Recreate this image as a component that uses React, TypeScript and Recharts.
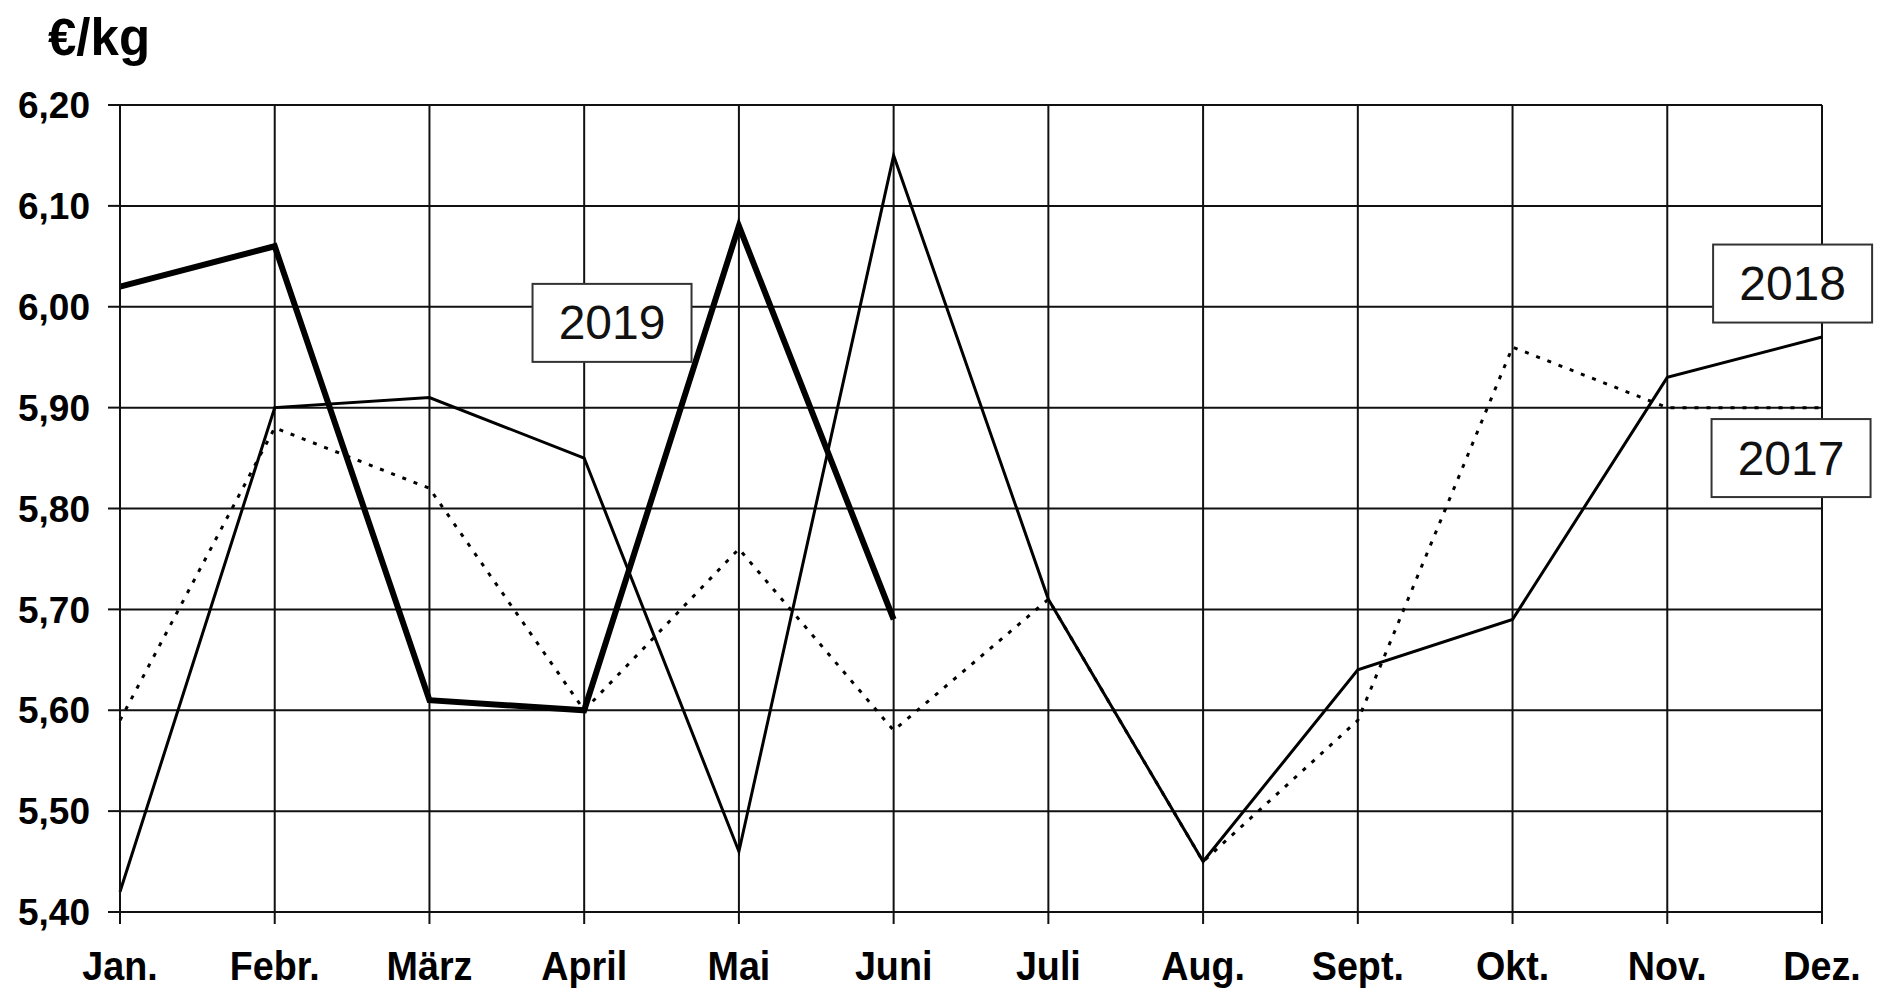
import { LineChart, Line, XAxis, YAxis, CartesianGrid, ReferenceDot } from 'recharts';

const months = ['Jan.', 'Febr.', 'März', 'April', 'Mai', 'Juni', 'Juli', 'Aug.', 'Sept.', 'Okt.', 'Nov.', 'Dez.'];
const yTicks = [5.4, 5.5, 5.6, 5.7, 5.8, 5.9, 6.0, 6.1, 6.2];

const prices2017 = [5.59, 5.88, 5.82, 5.6, 5.76, 5.58, 5.71, 5.45, 5.59, 5.96, 5.9, 5.9];
const prices2018 = [5.42, 5.9, 5.91, 5.85, 5.46, 6.15, 5.71, 5.45, 5.64, 5.69, 5.93, 5.97];
const prices2019 = [6.02, 6.06, 5.61, 5.6, 6.08, 5.69];

// where the year boxes sit (month index, value)
const yearLabels = [
    { text: '2019', x: 3.18, y: 5.984 },
    { text: '2018', x: 10.81, y: 6.023 },
    { text: '2017', x: 10.8, y: 5.85 }
];

const data = months.map((m, i) => ({
    x: i,
    y2017: prices2017[i],
    y2018: prices2018[i],
    y2019: i < prices2019.length ? prices2019[i] : null
}));

const fmt = (v: number) => v.toFixed(2).replace('.', ',');

function LabelBox(props: any) {
    const { cx, cy, text } = props;
    const w = 159;
    const h = 78;
    return (
        <g>
            <rect x={cx - w / 2} y={cy - h / 2} width={w} height={h} fill="#fff" stroke="#333" strokeWidth={2} />
            <text
                x={cx}
                y={cy}
                textAnchor="middle"
                dominantBaseline="central"
                fontFamily="'Liberation Sans', Arial, sans-serif"
                fontSize={48}
                fill="#111"
            >
                {text}
            </text>
        </g>
    );
}

// condensed bold month labels
function MonthTick(props: any) {
    const { x, y, payload } = props;
    return (
        <g transform={`translate(${x},${y}) scale(0.92,1)`}>
            <text
                x={0}
                y={0}
                dy={42}
                textAnchor="middle"
                fontFamily="'Liberation Sans', Arial, sans-serif"
                fontWeight="bold"
                fontSize={41}
                fill="#000"
            >
                {months[payload.value]}
            </text>
        </g>
    );
}

export default function App() {
    return (
        <div style={{ position: 'absolute', left: 0, top: 0, width: 1877, height: 989, background: '#fff' }}>
            <div
                style={{
                    position: 'absolute',
                    left: 48,
                    top: 10,
                    fontFamily: "'Liberation Sans', Arial, sans-serif",
                    fontWeight: 'bold',
                    fontSize: 51,
                    lineHeight: '56px',
                    color: '#000'
                }}
            >
                €/kg
            </div>
            <LineChart width={1877} height={989} data={data} margin={{ top: 105, right: 55, left: 10, bottom: 0 }}>
                <CartesianGrid stroke="#111" strokeWidth={2} horizontalValues={yTicks} verticalValues={months.map((_, i) => i)} />
                <XAxis
                    dataKey="x"
                    type="number"
                    domain={[0, 11]}
                    ticks={months.map((_, i) => i)}
                    interval={0}
                    height={77}
                    tickSize={12}
                    tickMargin={14}
                    stroke="#111"
                    strokeWidth={2}
                    tick={<MonthTick />}
                />
                <YAxis
                    type="number"
                    domain={[5.4, 6.2]}
                    ticks={yTicks}
                    tickFormatter={fmt}
                    width={110}
                    tickSize={12}
                    tickMargin={18}
                    stroke="#111"
                    strokeWidth={2}
                    tick={{ fontSize: 37, fontWeight: 'bold', fill: '#000', fontFamily: "'Liberation Sans', Arial, sans-serif" }}
                />
                <Line dataKey="y2017" stroke="#000" strokeWidth={3} strokeDasharray="4 8" dot={false} isAnimationActive={false} />
                <Line dataKey="y2018" stroke="#000" strokeWidth={3} dot={false} isAnimationActive={false} />
                <Line dataKey="y2019" stroke="#000" strokeWidth={6} dot={false} connectNulls={false} isAnimationActive={false} />
                {yearLabels.map(l => (
                    <ReferenceDot
                        key={l.text}
                        x={l.x}
                        y={l.y}
                        ifOverflow="visible"
                        shape={(p: any) => <LabelBox {...p} text={l.text} />}
                    />
                ))}
            </LineChart>
        </div>
    );
}
